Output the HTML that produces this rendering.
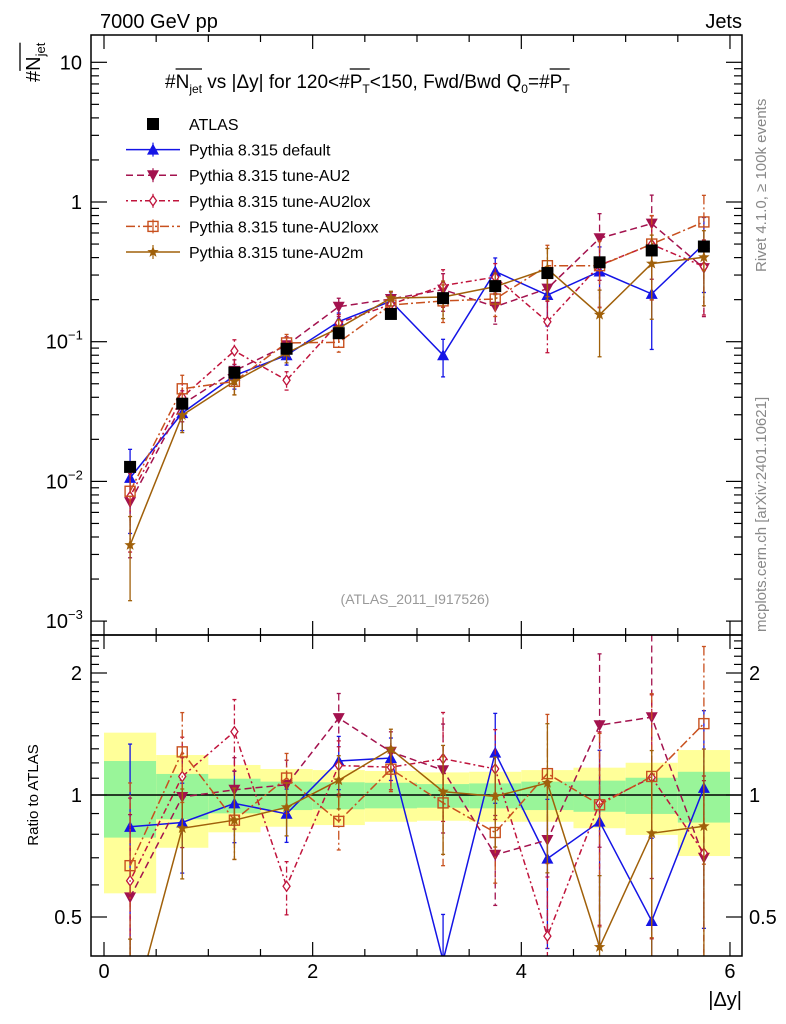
<!DOCTYPE html>
<html><head><meta charset="utf-8">
<style>
html,body{margin:0;padding:0;background:#fff;width:786px;height:1024px;overflow:hidden;}
svg{display:block;font-family:"Liberation Sans","DejaVu Sans",sans-serif;}
</style></head>
<body>
<svg id="c" width="786" height="1024" viewBox="0 0 786 1024" xmlns="http://www.w3.org/2000/svg">
<defs>
<clipPath id="clipMain"><rect x="91" y="35" width="651" height="600"/></clipPath>
<clipPath id="clipRatio"><rect x="91" y="635" width="651" height="321"/></clipPath>
</defs>
<g id="bands" clip-path="url(#clipRatio)"></g>
<g id="marksMain" clip-path="url(#clipMain)"></g>
<g id="marksRatio" clip-path="url(#clipRatio)"></g>
<g id="axes"></g>
<text x="100" y="28" font-size="20">7000 GeV pp</text>
<text x="742" y="28" font-size="20" text-anchor="end">Jets</text>
<g id="ytitle" transform="translate(40,82) rotate(-90)">
<text x="0" y="0" font-size="20">#<tspan class="ol">N</tspan><tspan class="ol" font-size="13" dy="5">jet</tspan></text>
</g>
<g id="ptitle">
<text x="165" y="88" font-size="19">#<tspan class="ol">N</tspan><tspan class="ol" font-size="12" dy="5">jet</tspan><tspan dy="-5"> vs |Δy| for 120&lt;#</tspan><tspan class="ol">P</tspan><tspan class="ol" font-size="12" dy="5">T</tspan><tspan dy="-5">&lt;150, Fwd/Bwd Q</tspan><tspan font-size="12" dy="5">0</tspan><tspan dy="-5">=#</tspan><tspan class="ol">P</tspan><tspan class="ol" font-size="12" dy="5">T</tspan></text>
</g>
<g id="legend"></g>
<text x="415" y="604" font-size="14" fill="#999" text-anchor="middle">(ATLAS_2011_I917526)</text>
<text transform="translate(766,272) rotate(-90)" font-size="15" fill="#888">Rivet 4.1.0, ≥ 100k events</text>
<text transform="translate(766,632) rotate(-90)" font-size="15" fill="#888">mcplots.cern.ch [arXiv:2401.10621]</text>
<text transform="translate(38,795) rotate(-90)" font-size="15" text-anchor="middle">Ratio to ATLAS</text>
<text x="742" y="1006" font-size="20" text-anchor="end">|Δy|</text>
</svg>
<script>
const binCenters=[0.25,0.75,1.25,1.75,2.25,2.75,3.25,3.75,4.25,4.75,5.25,5.75];
const atlasVals=[0.0127,0.036,0.060,0.089,0.115,0.158,0.205,0.25,0.31,0.37,0.45,0.48];
const bandYellowHi=[1.425,1.255,1.186,1.159,1.152,1.146,1.137,1.141,1.152,1.168,1.201,1.291];
const bandYellowLo=[0.572,0.741,0.809,0.835,0.843,0.859,0.864,0.859,0.859,0.828,0.797,0.707];
const bandGreenHi=[1.213,1.127,1.097,1.079,1.075,1.072,1.064,1.068,1.079,1.085,1.103,1.141];
const bandGreenLo=[0.785,0.871,0.901,0.918,0.922,0.927,0.93,0.927,0.918,0.909,0.898,0.855];
const defaultVals=[0.0106,0.0308,0.0572,0.080,0.1395,0.195,0.080,0.318,0.216,0.318,0.22,0.50];
const au2Vals=[0.0071,0.0356,0.0618,0.0943,0.178,0.202,0.236,0.178,0.24,0.55,0.70,0.336];
const au2loxVals=[0.0078,0.040,0.086,0.053,0.136,0.185,0.252,0.29,0.139,0.353,0.497,0.345];
const au2loxxVals=[0.0085,0.046,0.052,0.098,0.099,0.183,0.196,0.202,0.35,0.35,0.50,0.72];
const au2mVals=[0.0035,0.0298,0.052,0.083,0.125,0.205,0.209,0.248,0.332,0.156,0.362,0.402];
const mcRelErr=[0.6,0.25,0.2,0.15,0.15,0.12,0.3,0.25,0.4,0.5,0.6,0.55];
const xTickLabels=["0","2","4","6"];
const ratioTickLabels=["2","1","0.5"];

const NS="http://www.w3.org/2000/svg";
const L0=91,R0=742,T0=35,M0=635,B0=956;
const X=v=>104+104.33*v;
const Ym=v=>202-139.7*Math.log10(v);
const Yr=r=>795-122*Math.log2(r);
function mk(tag,attrs,parent){const e=document.createElementNS(NS,tag);for(const k in attrs)e.setAttribute(k,attrs[k]);parent.appendChild(e);return e;}

function overlines(groupId,yOff){
  const g=document.getElementById(groupId);
  const ols=[...g.querySelectorAll('tspan.ol')];
  for(let i=0;i+1<ols.length;i+=2){
    const a=ols[i],b=ols[i+1];
    const x1=a.getStartPositionOfChar(0).x;
    const n=b.getNumberOfChars();
    const x2=b.getEndPositionOfChar(n-1).x;
    const y=a.getStartPositionOfChar(0).y+yOff;
    mk('line',{x1:x1,x2:x2,y1:y,y2:y,stroke:'#000','stroke-width':1.3},g);
  }
}
overlines('ptitle',-19);
overlines('ytitle',-20);

const axes=document.getElementById('axes');
const bands=document.getElementById('bands');
binCenters.forEach((c,i)=>{
  const r1=mk('rect',{x:X(c-0.25),y:Yr(bandYellowHi[i]),width:X(0.5)-X(0),height:Yr(bandYellowLo[i])-Yr(bandYellowHi[i]),fill:'#ffff99'},bands);
  
  
  const r2=mk('rect',{x:X(c-0.25),y:Yr(bandGreenHi[i]),width:X(0.5)-X(0),height:Yr(bandGreenLo[i])-Yr(bandGreenHi[i]),fill:'#99f599'},bands);
  
  
});
mk('line',{x1:L0,x2:R0,y1:Yr(1),y2:Yr(1),stroke:'#000','stroke-width':1.5},bands);

function marker(type,x,y,color,parent){
  let e;
  if(type==='square') e=mk('rect',{x:x-6,y:y-6,width:12,height:12,fill:'#000'},parent);
  else if(type==='tri') e=mk('polygon',{points:`${x},${y-6} ${x-6},${y+5} ${x+6},${y+5}`,fill:color},parent);
  else if(type==='dtri') e=mk('polygon',{points:`${x},${y+6} ${x-6},${y-5} ${x+6},${y-5}`,fill:color},parent);
  else if(type==='diamond') e=mk('polygon',{points:`${x},${y-5} ${x-3.5},${y} ${x},${y+5} ${x+3.5},${y}`,fill:'#fff',stroke:color,'stroke-width':1.3},parent);
  else if(type==='osq') e=mk('rect',{x:x-5,y:y-5,width:10,height:10,fill:'none',stroke:color,'stroke-width':1.4},parent);
  else if(type==='star'){let p=[];for(let k=0;k<10;k++){const a=-Math.PI/2+k*Math.PI/5,rr=k%2?2.5:6;p.push((x+rr*Math.cos(a)).toFixed(1)+','+(y+rr*Math.sin(a)).toFixed(1));}e=mk('polygon',{points:p.join(' '),fill:color},parent);}
  return e;
}
const series=[
 {name:'Pythia 8.315 default',vals:defaultVals,color:'#1414e6',dash:'',m:'tri',key:'default'},
 {name:'Pythia 8.315 tune-AU2',vals:au2Vals,color:'#a3124e',dash:'7,4',m:'dtri',key:'au2'},
 {name:'Pythia 8.315 tune-AU2lox',vals:au2loxVals,color:'#c0143c',dash:'2,3,6,3',m:'diamond',key:'au2lox'},
 {name:'Pythia 8.315 tune-AU2loxx',vals:au2loxxVals,color:'#c8501e',dash:'9,3,2,3',m:'osq',key:'au2loxx'},
 {name:'Pythia 8.315 tune-AU2m',vals:au2mVals,color:'#a0600a',dash:'',m:'star',key:'au2m'}
];
const gm=document.getElementById('marksMain'), gr=document.getElementById('marksRatio');
series.forEach(s=>{
  [['main',gm,(i)=>Ym(s.vals[i]),(i,f)=>Ym(s.vals[i]*f)],['ratio',gr,(i)=>Yr(s.vals[i]/atlasVals[i]),(i,f)=>Yr(s.vals[i]*f/atlasVals[i])]].forEach(([pan,g,yf,yfe])=>{
    const grp=mk('g',{},g);
    
    
    binCenters.forEach((c,i)=>{
      const lo=Math.max(1-mcRelErr[i],0.01),hi=1+mcRelErr[i];
      mk('line',{x1:X(c),x2:X(c),y1:yfe(i,hi),y2:yfe(i,lo),stroke:s.color,'stroke-width':1.3,'stroke-dasharray':s.dash},grp);
      mk('line',{x1:X(c)-2,x2:X(c)+2,y1:yfe(i,hi),y2:yfe(i,hi),stroke:s.color,'stroke-width':1.3},grp);
      mk('line',{x1:X(c)-2,x2:X(c)+2,y1:yfe(i,lo),y2:yfe(i,lo),stroke:s.color,'stroke-width':1.3},grp);
    });
    const pts=binCenters.map((c,i)=>X(c).toFixed(1)+','+yf(i).toFixed(1)).join(' ');
    const pl=mk('polyline',{points:pts,fill:'none',stroke:s.color,'stroke-width':1.5,'stroke-dasharray':s.dash},grp);
    
    
    binCenters.forEach((c,i)=>{
      const mEl=marker(s.m,X(c),yf(i),s.color,grp);
      
      
    });
  });
});
binCenters.forEach((c,i)=>{
  mk('line',{x1:X(c),x2:X(c),y1:Ym(atlasVals[i]*1.08),y2:Ym(atlasVals[i]*0.93),stroke:'#000','stroke-width':1.3},gm);
  const e=marker('square',X(c),Ym(atlasVals[i]),'#000',gm);
  
  
});

mk('rect',{x:L0,y:T0,width:R0-L0,height:M0-T0,fill:'none',stroke:'#000','stroke-width':1.5},axes);
mk('rect',{x:L0,y:M0,width:R0-L0,height:B0-M0,fill:'none',stroke:'#000','stroke-width':1.5},axes);
for(let v=0;v<=6.001;v+=0.5){
  const major=Math.abs(v-Math.round(v/2)*2)<1e-6, L=major?14:7;
  [[M0,-1],[B0,-1],[T0,1],[M0,1]].forEach(([y,d])=>mk('line',{x1:X(v),x2:X(v),y1:y,y2:y+d*L,stroke:'#000','stroke-width':1.2},axes));
}
xTickLabels.forEach((t,i)=>{
  const e=mk('text',{x:X(i*2),y:978,'font-size':20,'text-anchor':'middle'},axes);e.textContent=t;
  
  
});
for(let d=-3;d<=1;d++){
  for(let k=1;k<=9;k++){
    const v=k*Math.pow(10,d), y=Ym(v);
    if(y<T0||y>M0) continue;
    const L=k===1?16:8;
    mk('line',{x1:L0,x2:L0+L,y1:y,y2:y,stroke:'#000','stroke-width':1.2},axes);
    mk('line',{x1:R0,x2:R0-L,y1:y,y2:y,stroke:'#000','stroke-width':1.2},axes);
  }
}
const ylabs=[[1,'10',''],[0,'1',''],[-1,'10','−1'],[-2,'10','−2'],[-3,'10','−3']];
ylabs.forEach(([d,b,e])=>{
  const y=Ym(Math.pow(10,d))+7;
  const t=mk('text',{x:e?68:82,y:y,'font-size':20,'text-anchor':'end'},axes);t.textContent=b;
  
  
  if(e){const s=mk('text',{x:68,y:y-9,'font-size':13},axes);s.textContent=e;}
});
const rt=[0.5,0.6,0.7,0.8,0.9,1,1.1,1.2,1.3,1.4,1.5,1.6,1.7,1.8,1.9,2,2.1,2.2,2.3,2.4];
rt.forEach(r=>{
  const y=Yr(r),L=(r===0.5||r===1||r===2)?16:8;
  if(y<M0) return;
  mk('line',{x1:L0,x2:L0+L,y1:y,y2:y,stroke:'#000','stroke-width':1.2},axes);
  mk('line',{x1:R0,x2:R0-L,y1:y,y2:y,stroke:'#000','stroke-width':1.2},axes);
});
[2,1,0.5].forEach((r,i)=>{
  const a=mk('text',{x:82,y:Yr(r)+7,'font-size':20,'text-anchor':'end'},axes);a.textContent=ratioTickLabels[i];
  
  
  const b=mk('text',{x:749,y:Yr(r)+7,'font-size':20},axes);b.textContent=ratioTickLabels[i];
  
  
});
const lg=document.getElementById('legend');
const ents=[{name:'ATLAS',m:'square',color:'#000',dash:null}].concat(series);
ents.forEach((s,i)=>{
  const y=124+i*25.6;
  const g=mk('g',{},lg);
  
  
  if(s.dash!==null){
    mk('line',{x1:126,x2:180,y1:y,y2:y,stroke:s.color,'stroke-width':1.5,'stroke-dasharray':s.dash},g);
    mk('line',{x1:153,x2:153,y1:y-7,y2:y+7,stroke:s.color,'stroke-width':1.2},g);
  }
  marker(s.m,153,y,s.color,g);
  const t=mk('text',{x:189,y:y+6,'font-size':16},g);t.textContent=s.name;
});
</script>
</body></html>
